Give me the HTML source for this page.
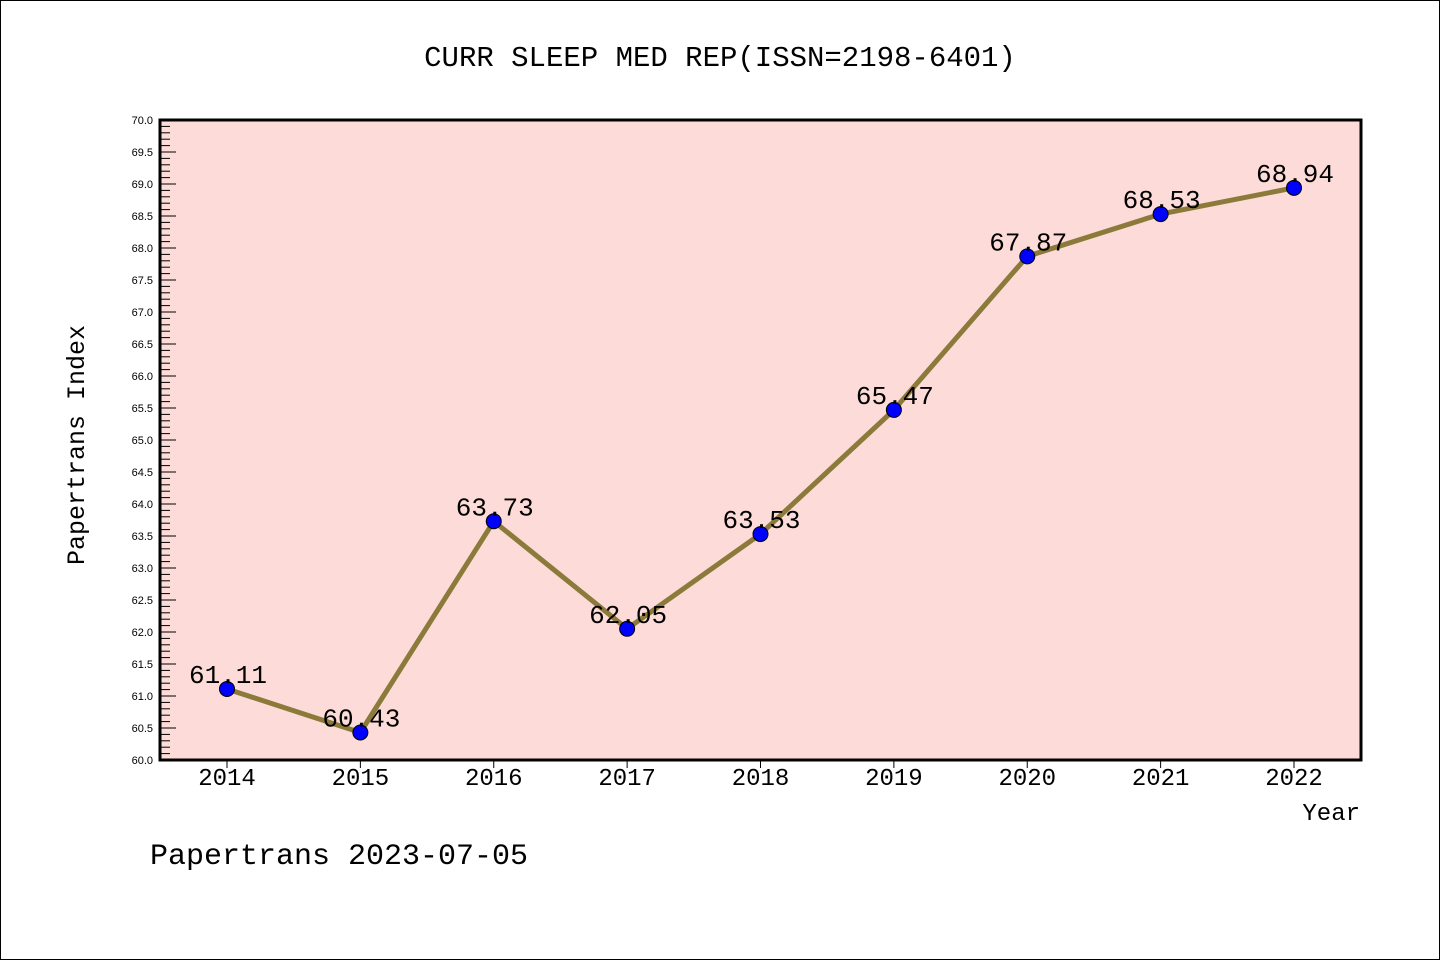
<!DOCTYPE html>
<html><head><meta charset="utf-8"><style>
html,body{margin:0;padding:0;background:#fff}
svg{display:block}
text{font-family:"Liberation Mono",monospace;fill:#000}
text.sans{font-family:"Liberation Sans",sans-serif}
</style></head><body>
<svg id="chart" width="1440" height="960" xmlns="http://www.w3.org/2000/svg">
<rect x="0.5" y="0.5" width="1439" height="959" fill="#fff" stroke="#000" stroke-width="1"/>
<text x="720" y="66" text-anchor="middle" font-size="29">CURR SLEEP MED REP(ISSN=2198-6401)</text>
<rect x="160" y="120" width="1201" height="640" fill="#fddbd8"/>
<g id="yticks"></g>
<g id="xticks"></g>
<rect x="160" y="120" width="1201" height="640" fill="none" stroke="#000" stroke-width="3"/>
<g id="series"></g>
<text transform="translate(84,445) rotate(-90)" text-anchor="middle" font-size="25">Papertrans Index</text>
<text x="1360" y="820" text-anchor="end" font-size="24">Year</text>
<text x="150" y="864" font-size="30">Papertrans 2023-07-05</text>
</svg>
<script>
const years=[2014,2015,2016,2017,2018,2019,2020,2021,2022];
const values=[61.11,60.43,63.73,62.05,63.53,65.47,67.87,68.53,68.94];
const labels=["61.11","60.43","63.73","62.05","63.53","65.47","67.87","68.53","68.94"];
const yMin=60,yMax=70;
const ns="http://www.w3.org/2000/svg";
function xs(i){return 227+i*(1294-227)/(years.length-1);}
function ys(v){return 760-(v-yMin)/(yMax-yMin)*640;}
function mk(t,a,p){const e=document.createElementNS(ns,t);for(const k in a)e.setAttribute(k,a[k]);p.appendChild(e);return e;}
const yt=document.getElementById('yticks');
for(let k=0;k<=100;k++){
  const v=yMin+k*0.1,y=ys(v),major=k%5===0;
  const l=mk('line',{x1:160,x2:major?176:170,y1:y,y2:y,stroke:'#000','stroke-width':1},yt);
  
  
  if(major){const t=mk('text',{x:153,y:y+4,'text-anchor':'end','font-size':11,'class':'sans'},yt);t.textContent=v.toFixed(1);
  
  }
}
const xt=document.getElementById('xticks');
years.forEach((yr,i)=>{
  const x=xs(i);
  const l=mk('line',{x1:x,x2:x,y1:760,y2:768,stroke:'#000','stroke-width':1},xt);
  
  
  const t=mk('text',{x:x,y:785,'text-anchor':'middle','font-size':24},xt);t.textContent=yr;
  
  
});
const s=document.getElementById('series');
const pl=mk('polyline',{points:values.map((v,i)=>xs(i)+','+ys(v)).join(' '),fill:'none',stroke:'#8b7a3a','stroke-width':5,'stroke-linejoin':'round'},s);


values.forEach((v,i)=>{
  const c=mk('circle',{cx:xs(i),cy:ys(v),r:7.5,fill:'#0000ff',stroke:'#000','stroke-width':1},s);
  
  
  const t=mk('text',{x:xs(i)+1,y:ys(v)-6,'text-anchor':'middle','font-size':26},s);t.textContent=labels[i];
  
  
});
</script>
</body></html>
